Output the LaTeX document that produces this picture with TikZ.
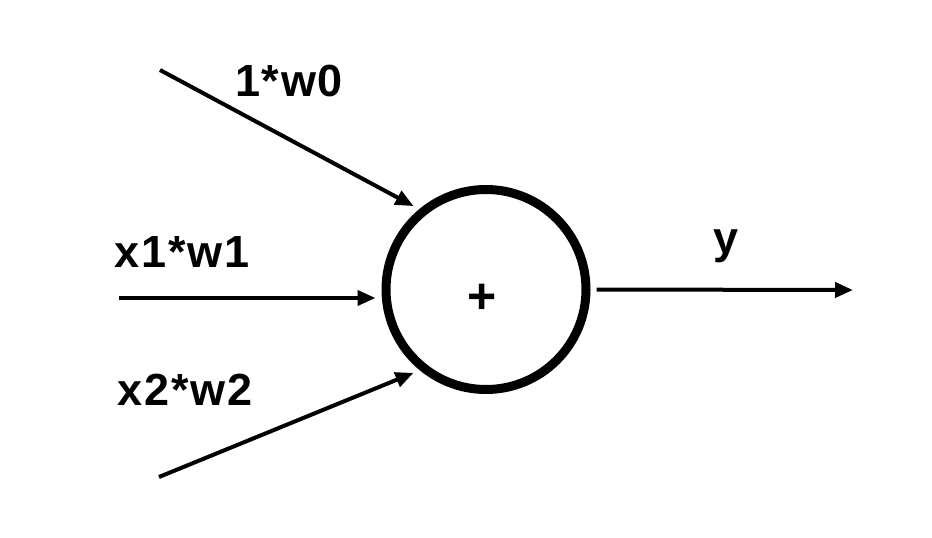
\documentclass[tikz,border=0pt]{standalone}
\usepackage{fontspec}
\setmainfont{Liberation Sans}
\newfontfamily\lblfont{Liberation Sans}[LetterSpace=4]
\usetikzlibrary{arrows.meta}
\begin{document}
\begin{tikzpicture}[x=1pt,y=-1pt,
  lbl/.style={font=\lblfont\bfseries\fontsize{45}{45}\selectfont, inner sep=0pt, anchor=base},
  sumnode/.style={circle, draw, line width=9pt, minimum size=200pt, inner sep=0pt, outer sep=10.5pt},
  wire/.style={line width=4pt, -{Triangle[length=18pt,width=15pt]}}]
  \useasboundingbox (0,0) rectangle (932,538);

  % summing unit
  \node[sumnode] (sum) at (486,289.5) {};
  \node[font=\bfseries\fontsize{50}{50}\selectfont, inner sep=0pt, anchor=base] (plus) at (482.5,313) {+};

  % input and output ends
  \coordinate (in0) at (160,70);
  \coordinate (in1) at (119,298);
  \coordinate (in2) at (159,477);
  \coordinate (out) at (853,290);

  % connectors
  \draw[wire] (in0) -- (sum.131);
  \draw[wire] (in1) -- (in1 -| sum.west);
  \draw[wire] (in2) -- (sum.229);
  \draw[wire] (sum.east) -- (out);

  % labels
  \node[lbl] (l0) at (289,96) {1*w0};
  \node[lbl] (l1) at (182,267) {x1*w1};
  \node[lbl] (l2) at (185,405) {x2*w2};
  \node[lbl] (ly) at (726,253) {y};
\end{tikzpicture}
\end{document}
